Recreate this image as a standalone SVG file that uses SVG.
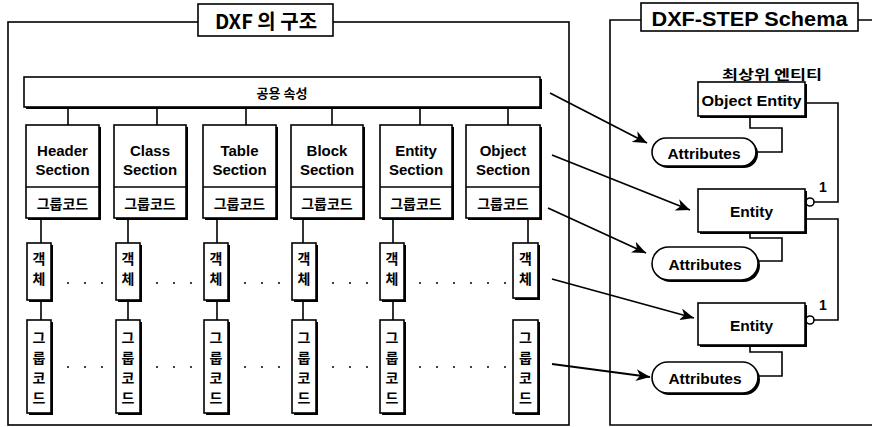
<svg xmlns="http://www.w3.org/2000/svg" width="872" height="427" viewBox="0 0 872 427">
<style>
text{font-family:"Liberation Sans","Noto Sans CJK KR",sans-serif;font-weight:bold;fill:#000;text-anchor:middle;dominant-baseline:central}
.k{font-family:"Noto Sans CJK KR","Liberation Sans",sans-serif;font-weight:bold}
.box{fill:#fff;stroke:#000;stroke-width:1.6}
.sh{fill:#000}
.ln{fill:none;stroke:#000;stroke-width:1.6}
.dot{fill:none;stroke:#000;stroke-width:2;stroke-linecap:round;stroke-dasharray:0 17}
.arr{fill:none;stroke:#000;stroke-width:1.8;marker-end:url(#ah)}
</style>
<defs>
<marker id="ah" markerUnits="userSpaceOnUse" markerWidth="16" markerHeight="12" refX="14" refY="6" orient="auto">
<path d="M0,0 L14,6 L0,12 L4,6 Z" fill="#000"/>
</marker>
</defs>
<rect width="872" height="427" fill="#fff"/>

<g id="frame-left">
<rect x="8" y="22" width="561" height="403" class="ln"/>
<rect x="198" y="4" width="135" height="32" class="box"/>
<text x="266" y="20" font-size="20" font-weight="normal" class="k">DXF 의 구조</text>
</g>
<g id="frame-right">
<path d="M872,20 H610 V425 H872" class="ln"/>
<rect x="641" y="3" width="217" height="28" class="box"/>
<text x="749.5" y="18" font-size="21" font-weight="normal" textLength="196" lengthAdjust="spacingAndGlyphs">DXF-STEP Schema</text>
</g>

<g id="connectors">
<path d="M68,107V125 M157,107V125 M246,107V125 M332,107V125 M420,107V125 M508,107V125" class="ln"/>
<path d="M41,218V243 M128,218V243 M217,218V243 M303,218V243 M393,218V243 M528,218V243" class="ln"/>
<path d="M41,300V320 M128,300V320 M217,300V320 M303,300V320 M393,300V320" class="ln"/>
<path d="M68,283H104 M157,283H193 M245,283H281 M333,283H369 M420,283H507" class="dot"/>
<path d="M68,367H104 M157,367H193 M245,367H281 M333,367H369 M420,367H507" class="dot"/>
<path d="M750,116V128H782V152H757" class="ln"/>
<path d="M750,232V238H782V261H758" class="ln"/>
<path d="M750,345V352H782V376H758" class="ln"/>
<path d="M805,103H838V202H814" class="ln"/>
<path d="M805,219H838V320H814" class="ln"/>
<circle cx="810" cy="202" r="4" class="box"/>
<circle cx="810" cy="320" r="4" class="box"/>
<line x1="550" y1="93" x2="647" y2="143" class="arr"/>
<line x1="552" y1="155" x2="690" y2="210" class="arr"/>
<line x1="548" y1="208" x2="646" y2="253" class="arr"/>
<line x1="552" y1="279" x2="694" y2="318" class="arr"/>
<line x1="552" y1="364" x2="650" y2="377" class="arr"/>
</g>

<g id="common">
<rect x="26" y="79" width="516" height="30" class="sh"/>
<rect x="24" y="77" width="516" height="30" class="box"/>
<text x="282" y="92" font-size="13" class="k">공용 속성</text>
</g>

<g id="sec-header">
<rect x="28" y="127" width="73" height="93" class="sh"/>
<rect x="26" y="125" width="73" height="93" class="box"/>
<line x1="26" y1="187" x2="99" y2="187" class="ln"/>
<text x="62.5" y="150" font-size="15">Header</text>
<text x="62.5" y="169" font-size="15">Section</text>
<text x="62.5" y="203" font-size="14" class="k">그룹코드</text>
</g>
<g id="sec-class">
<rect x="116" y="127" width="72" height="93" class="sh"/>
<rect x="114" y="125" width="72" height="93" class="box"/>
<line x1="114" y1="187" x2="186" y2="187" class="ln"/>
<text x="150" y="150" font-size="15">Class</text>
<text x="150" y="169" font-size="15">Section</text>
<text x="150" y="203" font-size="14" class="k">그룹코드</text>
</g>
<g id="sec-table">
<rect x="205" y="127" width="73" height="93" class="sh"/>
<rect x="203" y="125" width="73" height="93" class="box"/>
<line x1="203" y1="187" x2="276" y2="187" class="ln"/>
<text x="239.5" y="150" font-size="15">Table</text>
<text x="239.5" y="169" font-size="15">Section</text>
<text x="239.5" y="203" font-size="14" class="k">그룹코드</text>
</g>
<g id="sec-block">
<rect x="293" y="127" width="72" height="93" class="sh"/>
<rect x="291" y="125" width="72" height="93" class="box"/>
<line x1="291" y1="187" x2="363" y2="187" class="ln"/>
<text x="327" y="150" font-size="15">Block</text>
<text x="327" y="169" font-size="15">Section</text>
<text x="327" y="203" font-size="14" class="k">그룹코드</text>
</g>
<g id="sec-entity">
<rect x="382" y="127" width="72" height="93" class="sh"/>
<rect x="380" y="125" width="72" height="93" class="box"/>
<line x1="380" y1="187" x2="452" y2="187" class="ln"/>
<text x="416" y="150" font-size="15">Entity</text>
<text x="416" y="169" font-size="15">Section</text>
<text x="416" y="203" font-size="14" class="k">그룹코드</text>
</g>
<g id="sec-object">
<rect x="468" y="127" width="74" height="93" class="sh"/>
<rect x="466" y="125" width="74" height="93" class="box"/>
<line x1="466" y1="187" x2="540" y2="187" class="ln"/>
<text x="503" y="150" font-size="15">Object</text>
<text x="503" y="169" font-size="15">Section</text>
<text x="503" y="203" font-size="14" class="k">그룹코드</text>
</g>

<g id="obj-1">
<rect x="29" y="245" width="24" height="57" class="sh"/><rect x="27" y="243" width="24" height="57" class="box"/>
<text x="39" y="258" font-size="14" class="k">객</text><text x="39" y="278" font-size="14" class="k">체</text>
</g>
<g id="obj-2">
<rect x="118" y="245" width="24" height="57" class="sh"/><rect x="116" y="243" width="24" height="57" class="box"/>
<text x="128" y="258" font-size="14" class="k">객</text><text x="128" y="278" font-size="14" class="k">체</text>
</g>
<g id="obj-3">
<rect x="206" y="245" width="24" height="57" class="sh"/><rect x="204" y="243" width="24" height="57" class="box"/>
<text x="216" y="258" font-size="14" class="k">객</text><text x="216" y="278" font-size="14" class="k">체</text>
</g>
<g id="obj-4">
<rect x="294" y="245" width="24" height="57" class="sh"/><rect x="292" y="243" width="24" height="57" class="box"/>
<text x="304" y="258" font-size="14" class="k">객</text><text x="304" y="278" font-size="14" class="k">체</text>
</g>
<g id="obj-5">
<rect x="382" y="245" width="24" height="57" class="sh"/><rect x="380" y="243" width="24" height="57" class="box"/>
<text x="392" y="258" font-size="14" class="k">객</text><text x="392" y="278" font-size="14" class="k">체</text>
</g>
<g id="obj-6">
<rect x="515" y="245" width="25" height="55" class="sh"/><rect x="513" y="243" width="25" height="55" class="box"/>
<text x="525.5" y="258" font-size="14" class="k">객</text><text x="525.5" y="278" font-size="14" class="k">체</text>
</g>

<g id="gc-1">
<rect x="29" y="322" width="24" height="93" class="sh"/><rect x="27" y="320" width="24" height="93" class="box"/>
<text x="39" y="337" font-size="14" class="k">그</text><text x="39" y="357" font-size="14" class="k">룹</text><text x="39" y="377" font-size="14" class="k">코</text><text x="39" y="397" font-size="14" class="k">드</text>
</g>
<g id="gc-2">
<rect x="118" y="322" width="24" height="93" class="sh"/><rect x="116" y="320" width="24" height="93" class="box"/>
<text x="128" y="337" font-size="14" class="k">그</text><text x="128" y="357" font-size="14" class="k">룹</text><text x="128" y="377" font-size="14" class="k">코</text><text x="128" y="397" font-size="14" class="k">드</text>
</g>
<g id="gc-3">
<rect x="206" y="322" width="24" height="93" class="sh"/><rect x="204" y="320" width="24" height="93" class="box"/>
<text x="216" y="337" font-size="14" class="k">그</text><text x="216" y="357" font-size="14" class="k">룹</text><text x="216" y="377" font-size="14" class="k">코</text><text x="216" y="397" font-size="14" class="k">드</text>
</g>
<g id="gc-4">
<rect x="294" y="322" width="24" height="93" class="sh"/><rect x="292" y="320" width="24" height="93" class="box"/>
<text x="304" y="337" font-size="14" class="k">그</text><text x="304" y="357" font-size="14" class="k">룹</text><text x="304" y="377" font-size="14" class="k">코</text><text x="304" y="397" font-size="14" class="k">드</text>
</g>
<g id="gc-5">
<rect x="382" y="322" width="24" height="93" class="sh"/><rect x="380" y="320" width="24" height="93" class="box"/>
<text x="392" y="337" font-size="14" class="k">그</text><text x="392" y="357" font-size="14" class="k">룹</text><text x="392" y="377" font-size="14" class="k">코</text><text x="392" y="397" font-size="14" class="k">드</text>
</g>
<g id="gc-6">
<rect x="515" y="322" width="25" height="93" class="sh"/><rect x="513" y="320" width="25" height="93" class="box"/>
<text x="525.5" y="337" font-size="14" class="k">그</text><text x="525.5" y="357" font-size="14" class="k">룹</text><text x="525.5" y="377" font-size="14" class="k">코</text><text x="525.5" y="397" font-size="14" class="k">드</text>
</g>

<g id="top-label">
<text x="772" y="73" font-size="13" class="k" textLength="100" lengthAdjust="spacingAndGlyphs">최상위 엔티티</text>
</g>
<g id="object-entity">
<rect x="700" y="84" width="107" height="34" class="sh"/>
<rect x="698" y="82" width="107" height="34" class="box"/>
<text x="751.5" y="100" font-size="15" textLength="100" lengthAdjust="spacingAndGlyphs">Object Entity</text>
</g>
<g id="attr-1">
<rect x="654" y="140" width="104" height="28" rx="14" class="sh"/>
<rect x="652" y="138" width="104" height="28" rx="14" class="box"/>
<text x="704" y="153" font-size="15.5">Attributes</text>
</g>
<g id="entity-1">
<rect x="700" y="191" width="107" height="43" class="sh"/>
<rect x="698" y="189" width="107" height="43" class="box"/>
<text x="751.5" y="211" font-size="15.5">Entity</text>
<text x="823" y="187" font-size="14">1</text>
</g>
<g id="attr-2">
<rect x="654" y="249" width="106" height="33" rx="16.5" class="sh"/>
<rect x="652" y="247" width="106" height="33" rx="16.5" class="box"/>
<text x="705" y="264" font-size="15.5">Attributes</text>
</g>
<g id="entity-2">
<rect x="700" y="305" width="107" height="42" class="sh"/>
<rect x="698" y="303" width="107" height="42" class="box"/>
<text x="751.5" y="325" font-size="15.5">Entity</text>
<text x="823" y="305" font-size="14">1</text>
</g>
<g id="attr-3">
<rect x="654" y="364" width="106" height="31" rx="15.5" class="sh"/>
<rect x="652" y="362" width="106" height="31" rx="15.5" class="box"/>
<text x="705" y="378" font-size="15.5">Attributes</text>
</g>
</svg>
